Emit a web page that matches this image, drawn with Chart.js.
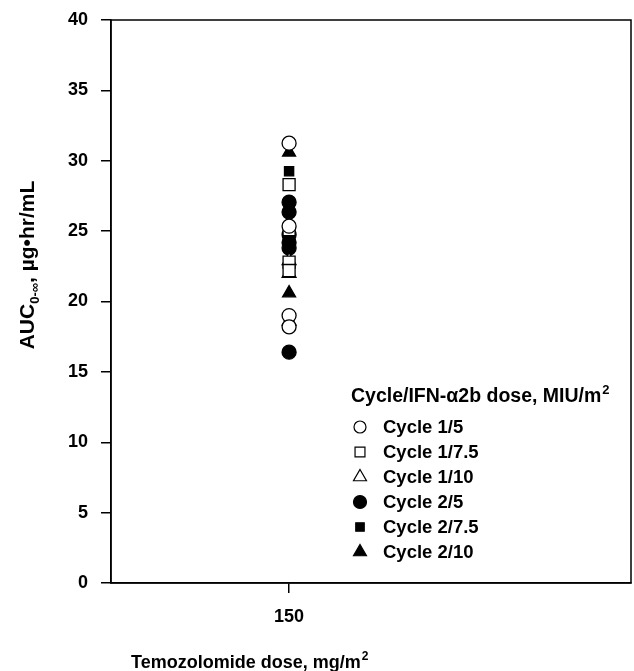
<!DOCTYPE html>
<html>
<head>
<meta charset="utf-8">
<script src="https://cdn.jsdelivr.net/npm/chart.js@4/dist/chart.umd.min.js"></script>
<style>
  html, body { margin: 0; padding: 0; background: #fff; }
  #wrap { width: 634px; height: 671px; position: relative; }
</style>
</head>
<body>
<div id="wrap"><canvas id="aucChart"></canvas></div>
<script>
// --- data ---
const doseTicks = [150];
const doseValue = 150;
const cycle1_5 = [31.25, 25.35, 19.0, 18.2];
const cycle1_75 = [28.3, 25.1, 22.8, 22.2];
const cycle1_10 = [22.9, 22.0, 18.6];
const cycle2_5 = [27.05, 26.35, 24.75, 24.2, 23.8, 16.4];
const cycle2_75 = [29.25];
const cycle2_10 = [30.6, 20.6];
const yTicks = [0, 5, 10, 15, 20, 25, 30, 35, 40];

const FONT = '"Liberation Sans", Arial, Helvetica, sans-serif';

const series = [
    { label: 'Cycle 1/5',   values: cycle1_5,  style: 'circle',   filled: false, r: 7,   lr: 6 },
    { label: 'Cycle 1/7.5', values: cycle1_75, style: 'rect',     filled: false, r: 8.5, lr: 7 },
    { label: 'Cycle 1/10',  values: cycle1_10, style: 'triangle', filled: false, r: 8,   lr: 7.5 },
    { label: 'Cycle 2/5',   values: cycle2_5,  style: 'circle',   filled: true,  r: 7,   lr: 6.5 },
    { label: 'Cycle 2/7.5', values: cycle2_75, style: 'rect',     filled: true,  r: 6.5, lr: 6 },
    { label: 'Cycle 2/10',  values: cycle2_10, style: 'triangle', filled: true,  r: 7.5, lr: 7.5 }
];

// frame, axis titles and the in-plot legend
const decorations = {
    id: 'decorations',
    afterDraw(chart) {
        const ctx = chart.ctx;
        const a = chart.chartArea;
        ctx.save();

        // box around the plot
        ctx.strokeStyle = '#000';
        ctx.lineWidth = 1.5;
        ctx.strokeRect(a.left, a.top, a.right - a.left, a.bottom - a.top);

        // y title with subscript
        ctx.save();
        ctx.translate(27, 265);
        ctx.rotate(-Math.PI / 2);
        ctx.fillStyle = '#000';
        ctx.textBaseline = 'alphabetic';
        const big = 'bold 21px ' + FONT, small = 'bold 13px ' + FONT;
        const parts = [['AUC', big, 0], ['0-\u221E', small, 5], [', \u00B5g\u2022hr/mL', big, 0]];
        let total = 0;
        parts.forEach(p => { ctx.font = p[1]; total += ctx.measureText(p[0]).width; });
        let x = -total / 2;
        parts.forEach(p => {
            ctx.font = p[1];
            ctx.fillText(p[0], x, 7 + p[2]);
            x += ctx.measureText(p[0]).width;
        });
        ctx.restore();

        // x title with superscript
        ctx.fillStyle = '#000';
        ctx.font = 'bold 18px ' + FONT;
        const xt = 'Temozolomide dose, mg/m';
        ctx.fillText(xt, 131, 668);
        const w = ctx.measureText(xt).width;
        ctx.font = 'bold 12px ' + FONT;
        ctx.fillText('2', 131 + w + 1, 660);

        // legend
        const lx = 351, ty = 402;
        ctx.font = 'bold 19.5px ' + FONT;
        const lt = 'Cycle/IFN-\u03B12b dose, MIU/m';
        ctx.fillText(lt, lx, ty);
        const lw = ctx.measureText(lt).width;
        ctx.font = 'bold 13px ' + FONT;
        ctx.fillText('2', lx + lw + 1, ty - 8);

        series.forEach((s, i) => {
            const y = 427 + i * 25;
            ctx.fillStyle = s.filled ? '#000' : '#fff';
            ctx.strokeStyle = '#000';
            ctx.lineWidth = 1.2;
            Chart.helpers.drawPoint(ctx, { pointStyle: s.style, radius: s.lr, rotation: 0, borderWidth: 1.2 }, 360, y);
            ctx.fillStyle = '#000';
            ctx.font = 'bold 18.5px ' + FONT;
            ctx.textBaseline = 'middle';
            ctx.fillText(s.label, 383, y + 1);
            ctx.textBaseline = 'alphabetic';
        });

        ctx.restore();
    }
};

new Chart(document.getElementById('aucChart').getContext('2d'), {
    type: 'scatter',
    data: {
        datasets: series.map(s => ({
            label: s.label,
            data: s.values.map(v => ({ x: doseValue, y: v })),
            pointStyle: s.style,
            pointRadius: s.r,
            pointHoverRadius: s.r,
            pointBorderWidth: 1.3,
            borderColor: '#000',
            backgroundColor: s.filled ? '#000' : '#fff'
        }))
    },
    options: {
        responsive: true,
        maintainAspectRatio: false,
        animation: false,
        clip: false,
        layout: { autoPadding: false, padding: { top: 20, right: 3, left: 0, bottom: 0 } },
        scales: {
            x: {
                type: 'linear',
                min: 100,
                max: 246,
                afterBuildTicks: axis => { axis.ticks = doseTicks.map(v => ({ value: v })); },
                afterFit: axis => { axis.height = 88; axis.paddingLeft = 0; axis.paddingRight = 0; },
                grid: { drawOnChartArea: false, drawTicks: true, tickLength: 10, color: '#000', lineWidth: 1.5 },
                border: { display: true, color: '#000', width: 1.5 },
                ticks: { color: '#000', padding: 13, font: { family: FONT, size: 18, weight: 'bold' } }
            },
            y: {
                min: 0,
                max: 40,
                afterBuildTicks: axis => { axis.ticks = yTicks.map(v => ({ value: v })); },
                // labels sit 13px left of the tick marks; keep that gap out of the top padding
                afterFit: axis => { axis.width = 111; axis.paddingTop = 0; axis.paddingBottom = 0; },
                grid: { drawOnChartArea: false, drawTicks: true, tickLength: 10, color: '#000', lineWidth: 1.5 },
                border: { display: true, color: '#000', width: 1.5 },
                ticks: { color: '#000', padding: 13, font: { family: FONT, size: 18, weight: 'bold' } }
            }
        },
        plugins: {
            legend: { display: false },
            tooltip: { enabled: false }
        }
    },
    plugins: [decorations]
});
</script>
</body>
</html>
